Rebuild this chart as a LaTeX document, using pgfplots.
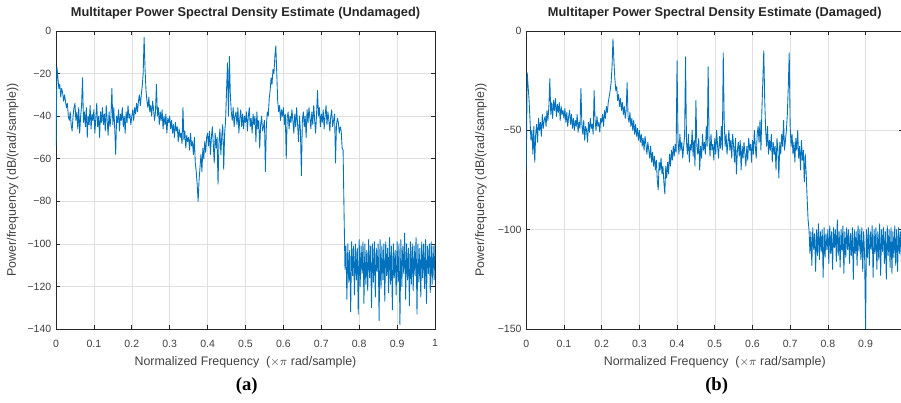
\documentclass[border=0pt]{standalone}
\usepackage{fontspec}
\setmainfont{Liberation Sans}
\newfontfamily\capfont{Liberation Serif}
\usepackage{pgfplots}
\usepackage{pgfplotstable}
\pgfplotsset{compat=1.18}
\definecolor{mlblue}{RGB}{0,114,189}
\definecolor{mlax}{gray}{0.15}

% PSD values in dB, one per frequency bin (step 0.0025 x pi rad/sample)
\pgfplotstableread[header=false,row sep=\\]{
-54\\-17\\-22\\-27\\-25\\-31\\-27\\-29\\-33\\-30\\
-33\\-36\\-34\\-40\\-42\\-38\\-44\\-47\\-40\\-36\\
-34\\-42\\-38\\-46\\-36\\-48\\-40\\-35\\-22\\-43\\
-38\\-45\\-36\\-50\\-40\\-44\\-35\\-46\\-39\\-42\\
-37\\-48\\-41\\-34\\-45\\-40\\-50\\-38\\-43\\-36\\
-44\\-39\\-47\\-35\\-42\\-49\\-38\\-45\\-40\\-27\\
-44\\-36\\-46\\-58\\-40\\-43\\-37\\-47\\-39\\-42\\
-36\\-45\\-40\\-48\\-38\\-43\\-35\\-41\\-39\\-44\\
-40\\-37\\-42\\-36\\-39\\-34\\-38\\-33\\-30\\-35\\
-30\\-26\\-20\\-3\\-18\\-28\\-33\\-36\\-31\\-38\\
-35\\-40\\-33\\-37\\-42\\-38\\-25\\-40\\-36\\-44\\
-38\\-42\\-37\\-46\\-40\\-44\\-39\\-48\\-41\\-43\\
-40\\-46\\-42\\-48\\-44\\-50\\-43\\-47\\-45\\-52\\
-46\\-50\\-48\\-53\\-36\\-51\\-47\\-55\\-49\\-52\\
-50\\-56\\-48\\-54\\-52\\-58\\-50\\-62\\-66\\-72\\
-80\\-70\\-64\\-58\\-66\\-55\\-60\\-52\\-57\\-50\\
-48\\-54\\-47\\-58\\-50\\-45\\-53\\-62\\-48\\-55\\
-50\\-72\\-52\\-46\\-58\\-49\\-44\\-65\\-48\\-42\\
-28\\-15\\-40\\-12\\-30\\-38\\-42\\-36\\-45\\-40\\
-38\\-44\\-36\\-48\\-41\\-37\\-45\\-39\\-46\\-40\\
-43\\-38\\-47\\-40\\-36\\-45\\-41\\-48\\-39\\-44\\
-40\\-52\\-38\\-46\\-42\\-55\\-44\\-40\\-47\\-45\\
-42\\-66\\-45\\-38\\-40\\-32\\-28\\-22\\-25\\-18\\
-20\\-12\\-7\\-20\\-33\\-38\\-35\\-42\\-37\\-40\\
-36\\-44\\-39\\-60\\-41\\-38\\-46\\-40\\-43\\-37\\
-42\\-48\\-39\\-45\\-36\\-44\\-52\\-40\\-47\\-68\\
-42\\-38\\-45\\-40\\-50\\-37\\-43\\-36\\-41\\-46\\
-38\\-44\\-35\\-42\\-48\\-39\\-28\\-40\\-36\\-45\\
-39\\-43\\-37\\-46\\-40\\-35\\-44\\-38\\-42\\-47\\
-40\\-37\\-45\\-42\\-39\\-62\\-44\\-41\\-43\\-48\\
-45\\-47\\-55\\-56\\-85\\-112\\-101\\-126\\-100\\-118\\
-103\\-132\\-99\\-115\\-101\\-124\\-100\\-117\\-102\\-133\\
-98\\-120\\-101\\-114\\-99\\-128\\-100\\-119\\-103\\-122\\
-98\\-116\\-101\\-130\\-100\\-118\\-99\\-125\\-102\\-113\\
-100\\-136\\-98\\-121\\-101\\-117\\-100\\-127\\-99\\-115\\
-102\\-123\\-97\\-119\\-101\\-131\\-100\\-116\\-103\\-124\\
-99\\-118\\-100\\-138\\-98\\-120\\-101\\-114\\-95\\-126\\
-100\\-117\\-102\\-129\\-99\\-119\\-100\\-122\\-101\\-115\\
-97\\-133\\-100\\-118\\-102\\-125\\-99\\-116\\-100\\-121\\
-98\\-128\\-101\\-114\\-100\\-123\\-99\\-119\\-101\\-117\\
-100\\
}\undamaged

\pgfplotstableread[header=false,row sep=\\]{
-70\\-21\\-28\\-35\\-45\\-55\\-50\\-62\\-48\\-66\\
-52\\-47\\-56\\-44\\-50\\-46\\-53\\-42\\-49\\-45\\
-43\\-48\\-40\\-45\\-38\\-24\\-42\\-36\\-44\\-35\\
-40\\-34\\-43\\-37\\-41\\-36\\-45\\-38\\-42\\-40\\
-44\\-39\\-46\\-41\\-48\\-43\\-40\\-47\\-42\\-49\\
-44\\-50\\-45\\-48\\-42\\-51\\-46\\-49\\-29\\-47\\
-52\\-45\\-55\\-48\\-50\\-56\\-46\\-51\\-44\\-49\\
-47\\-52\\-30\\-45\\-50\\-43\\-48\\-46\\-51\\-44\\
-46\\-42\\-48\\-40\\-44\\-38\\-41\\-36\\-33\\-30\\
-26\\-18\\-4\\-15\\-24\\-30\\-28\\-35\\-32\\-38\\
-34\\-40\\-36\\-42\\-38\\-44\\-40\\-26\\-43\\-46\\
-41\\-48\\-44\\-50\\-45\\-52\\-47\\-53\\-49\\-55\\
-50\\-56\\-52\\-58\\-54\\-60\\-53\\-57\\-62\\-56\\
-60\\-64\\-58\\-66\\-61\\-68\\-63\\-70\\-65\\-75\\
-80\\-66\\-70\\-64\\-72\\-68\\-76\\-82\\-68\\-74\\
-66\\-72\\-62\\-68\\-60\\-65\\-58\\-63\\-57\\-61\\
-15\\-55\\-62\\-52\\-60\\-56\\-64\\-58\\-53\\-13\\
-56\\-62\\-52\\-66\\-57\\-60\\-50\\-63\\-55\\-68\\
-35\\-58\\-62\\-54\\-70\\-58\\-64\\-52\\-60\\-56\\
-62\\-48\\-58\\-18\\-55\\-63\\-52\\-60\\-57\\-65\\
-54\\-62\\-50\\-58\\-64\\-53\\-59\\-48\\-60\\-11\\
-45\\-58\\-52\\-62\\-56\\-50\\-60\\-55\\-64\\-52\\
-58\\-66\\-54\\-72\\-60\\-56\\-63\\-55\\-70\\-58\\
-64\\-56\\-62\\-68\\-58\\-65\\-54\\-60\\-57\\-66\\
-55\\-62\\-50\\-58\\-64\\-52\\-48\\-56\\-45\\-60\\
-40\\-25\\-10\\-35\\-50\\-58\\-48\\-62\\-55\\-60\\
-52\\-66\\-56\\-62\\-58\\-70\\-54\\-60\\-74\\-56\\
-62\\-52\\-58\\-45\\-60\\-55\\-50\\-42\\-28\\-11\\
-48\\-58\\-52\\-62\\-56\\-66\\-54\\-60\\-50\\-64\\
-58\\-70\\-55\\-65\\-60\\-76\\-62\\-72\\-84\\-95\\
-100\\-112\\-101\\-118\\-99\\-110\\-102\\-121\\-100\\-113\\
-97\\-115\\-101\\-111\\-100\\-124\\-99\\-114\\-102\\-110\\
-100\\-117\\-98\\-112\\-101\\-120\\-99\\-109\\-100\\-116\\
-95\\-113\\-101\\-119\\-100\\-111\\-98\\-122\\-101\\-114\\
-99\\-110\\-100\\-117\\-102\\-113\\-99\\-125\\-100\\-112\\
-101\\-118\\-98\\-111\\-100\\-115\\-99\\-121\\-101\\-113\\
-150\\-100\\-114\\-99\\-118\\-101\\-110\\-98\\-124\\-100\\
-112\\-99\\-120\\-101\\-115\\-97\\-123\\-100\\-111\\-99\\
-117\\-101\\-125\\-98\\-113\\-100\\-119\\-99\\-122\\-101\\
-114\\-98\\-118\\-100\\-121\\-99\\-112\\-101\\-116\\-100\\
-110\\
}\damaged

\pgfplotsset{
  psd/.style={
    scale only axis, anchor=south west, height=223.5pt,
    xmin=0, xmax=1,
    grid=major, major grid style={draw=black!12, line width=0.4pt},
    axis line style={draw=mlax, line width=0.55pt},
    every tick/.style={draw=mlax, line width=0.5pt},
    major tick length=3pt, tick align=inside,
    ticklabel style={font=\fontsize{7.9}{9}\selectfont, text=black!75},
    xticklabel style={yshift=-4.5pt},
    label style={font=\fontsize{9.3}{11}\selectfont, text=black!75},
    xlabel={Normalized Frequency\ \ ($\times\pi$ rad/sample)},
    ylabel={Power/frequency (dB/(rad/sample))},
    xlabel style={at={(axis description cs:0.5,-0.113)}, anchor=center},
    every axis title shift=0pt,
    title style={at={(axis description cs:0.5,1.0595)}, anchor=center,
      font=\bfseries\fontsize{9.6}{11}\selectfont, text=black!85},
  },
  psdline/.style={mlblue, line width=0.65pt, line join=round},
}

\begin{document}
\begin{tikzpicture}
\begin{axis}[psd, at={(42pt,55.5pt)}, width=284.25pt,
  xtick={0,0.1,0.2,0.3,0.4,0.5,0.6,0.7,0.8,0.9,1},
  xticklabels={0,0.1,0.2,0.3,0.4,0.5,0.6,0.7,0.8,0.9,1},
  ymin=-140, ymax=0, ytick={-140,-120,-100,-80,-60,-40,-20,0},
  yticklabels={−140,−120,−100,−80,−60,−40,−20,0},
  ylabel style={at={(axis description cs:-0.1143,0.5)}, anchor=center},
  title={Multitaper Power Spectral Density Estimate (Undamaged)}]
\addplot[psdline] table[x expr=\coordindex*0.0025, y index=0] {\undamaged};
\end{axis}
\begin{axis}[psd, at={(394.7pt,55.5pt)}, width=282.75pt,
  xtick={0,0.1,0.2,0.3,0.4,0.5,0.6,0.7,0.8,0.9},
  xticklabels={0,0.1,0.2,0.3,0.4,0.5,0.6,0.7,0.8,0.9},
  ymin=-150, ymax=0, ytick={-150,-100,-50,0},
  yticklabels={−150,−100,−50,0},
  ylabel style={at={(axis description cs:-0.1202,0.5)}, anchor=center},
  title={Multitaper Power Spectral Density Estimate (Damaged)}]
\addplot[psdline] table[x expr=\coordindex*0.0025, y index=0] {\damaged};
\end{axis}
\node[font=\capfont\bfseries\fontsize{14}{16}\selectfont] at (185pt,12.75pt) {(a)};
\node[font=\capfont\bfseries\fontsize{14}{16}\selectfont] at (537.5pt,12.75pt) {(b)};
\pgfresetboundingbox
\path[use as bounding box] (0,0) rectangle (675.75pt,302.25pt);
\end{tikzpicture}
\end{document}
